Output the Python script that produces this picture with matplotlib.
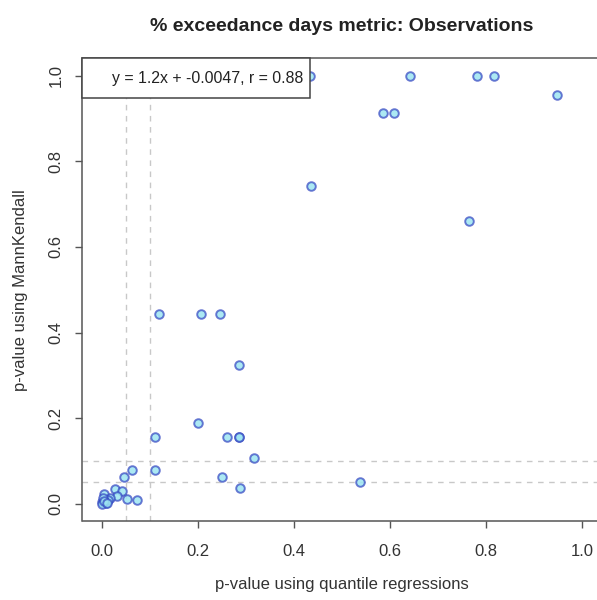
import matplotlib
matplotlib.use("Agg")
import matplotlib.pyplot as plt
from matplotlib.patches import Rectangle

plt.rcParams['font.family'] = ['Liberation Sans', 'DejaVu Sans']

# p-values: quantile regression (x) vs MannKendall (y)
qr_pvalues = [0.434, 0.643, 0.781, 0.817, 0.948, 0.585, 0.608, 0.435, 0.765,
              0.119, 0.206, 0.247, 0.286, 0.201, 0.112, 0.261, 0.286, 0.287,
              0.318, 0.063, 0.112, 0.250, 0.047, 0.289, 0.538, 0.028, 0.043,
              0.031, 0.053, 0.074, 0.004, 0.018, 0.000, 0.008, 0.014, 0.003,
              0.001, 0.005, 0.010]
mk_pvalues = [1.000, 1.000, 1.000, 1.000, 0.955, 0.912, 0.912, 0.741, 0.660,
              0.443, 0.443, 0.443, 0.324, 0.188, 0.155, 0.155, 0.155, 0.155,
              0.107, 0.080, 0.080, 0.063, 0.063, 0.037, 0.050, 0.035, 0.029,
              0.019, 0.011, 0.008, 0.023, 0.013, 0.004, 0.002, 0.009, 0.013,
              0.000, 0.006, 0.003]
thresholds = [0.05, 0.1]
ticks = [0.0, 0.2, 0.4, 0.6, 0.8, 1.0]
legend_text = "y = 1.2x + -0.0047, r = 0.88"

W, H = 597, 600
fig = plt.figure(figsize=(W / 100, H / 100), dpi=100)
L, R, T, B = 82.5, 601.0, 58.4, 521.0
ax = fig.add_axes([L / W, 1 - B / H, (R - L) / W, (B - T) / H])
ax.set_xlim(-0.04, 1.04)
ax.set_ylim(-0.04, 1.04)

for t in thresholds:
    ax.axvline(t, color='#c8c8c8', lw=1, ls=(0, (4, 4)), zorder=1)
    ax.axhline(t, color='#c8c8c8', lw=1, ls=(0, (4, 4)), zorder=1)

ax.scatter(qr_pvalues, mk_pvalues, s=38, facecolor=(0.62, 0.90, 0.95, 0.85),
           edgecolor=(0.20, 0.28, 0.76, 0.72), linewidth=1.4, zorder=3)

ax.set_xticks(ticks)
ax.set_yticks(ticks)
ax.set_xticklabels([f"{t:.1f}" for t in ticks])
ax.set_yticklabels([f"{t:.1f}" for t in ticks], rotation=90, va='center')
ax.tick_params(axis='both', direction='out', length=5, width=1, color='#555555',
               labelsize=12, labelcolor='#333333')
ax.tick_params(axis='x', pad=11.5)
ax.tick_params(axis='y', pad=8.5)
for s in ax.spines.values():
    s.set_color('#555555')
    s.set_linewidth(1.1)

ax.set_xlabel("p-value using quantile regressions", fontsize=12, color='#333333', labelpad=13)
ax.set_ylabel("p-value using MannKendall", fontsize=12, color='#333333', labelpad=15)
ax.set_title("% exceedance days metric: Observations", fontsize=14, fontweight='bold',
             color='#222222', pad=20)

# legend box in the top-left corner
lw_px, lh_px = 310 - L, 97.7 - T
rect = Rectangle((0, 1 - lh_px / (B - T)), lw_px / (R - L), lh_px / (B - T),
                 transform=ax.transAxes, facecolor='white', edgecolor='#444444',
                 lw=1.1, zorder=5, clip_on=False)
ax.add_patch(rect)
ax.text((111.7 - L) / (R - L), 1 - (79 - T) / (B - T), legend_text,
        transform=ax.transAxes, fontsize=11.4, color='#222222', va='center', ha='left',
        zorder=6)

fig.savefig("out.png", dpi=100)
